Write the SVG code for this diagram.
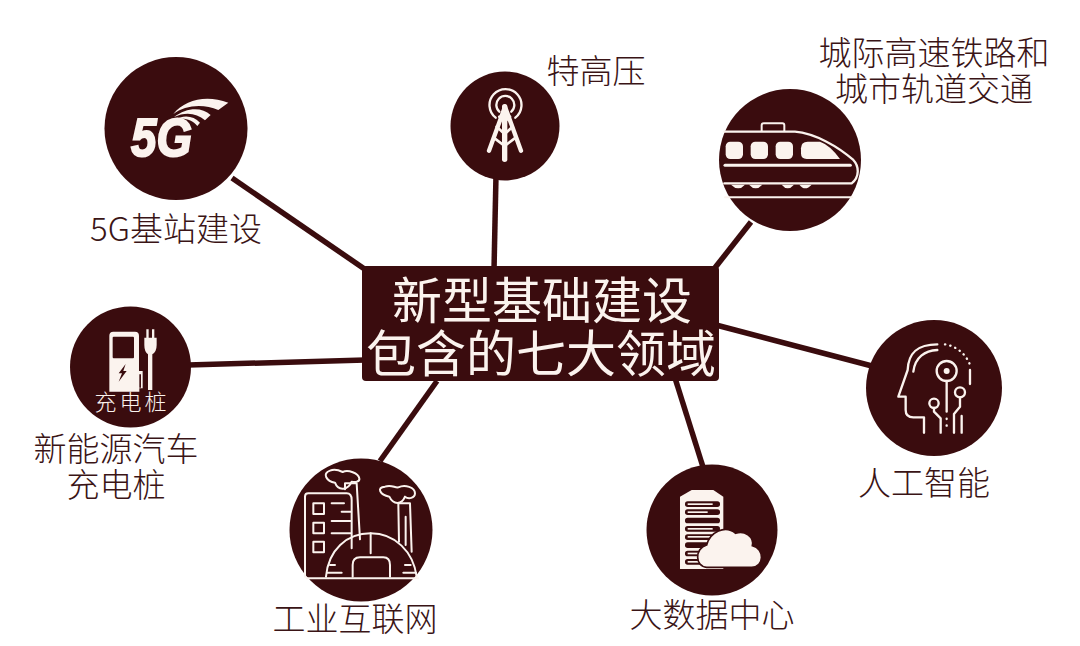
<svg xmlns="http://www.w3.org/2000/svg" width="1080" height="646" viewBox="0 0 1080 646">
<style>
.bg{fill:#3a0c0e}
.lbl{font-family:"Noto Sans CJK SC","Noto Sans",sans-serif;font-weight:300;font-size:33px;fill:#3a1416;text-anchor:middle}
.ttl{font-family:"Noto Sans CJK SC","Noto Sans",sans-serif;font-weight:400;font-size:50px;fill:#fbf3ee;text-anchor:middle}
.w{fill:#fbf3ee}
.s{fill:none;stroke:#fbf3ee;stroke-linecap:round;stroke-linejoin:round}
.d{fill:#3a0c0e}
.con line{stroke:#3a0c0e;stroke-width:5.5}
</style>
<rect width="1080" height="646" fill="#ffffff"/>
<g id="connectors" class="con">
<line x1="232" y1="178" x2="366" y2="270"/>
<line x1="496" y1="175" x2="494" y2="270"/>
<line x1="751" y1="222" x2="714" y2="269"/>
<line x1="716" y1="325" x2="872" y2="366"/>
<line x1="188" y1="365" x2="365" y2="360"/>
<line x1="380" y1="461" x2="437" y2="381"/>
<line x1="703" y1="467" x2="675" y2="378"/>
</g>
<g id="center">
<rect class="bg" x="362" y="266" width="357" height="115" rx="4"/>
<text class="ttl" x="542" y="319">新型基础建设</text>
<text class="ttl" x="541" y="372">包含的七大领域</text>
</g>
<g id="node-5g">
<circle class="bg" cx="176" cy="128.500" r="71.500"/>
<g transform="translate(90,40) scale(.3333)">
<path class="w" d="M250,222C285,178 350,163 415,188L385,210C340,190 285,195 250,222Z"/>
<path class="w" d="M252,231C290,202 335,200 362,225L345,241C320,218 285,215 252,231Z"/>
<path class="w" d="M252,240C280,224 310,226 330,248L322,258C305,238 280,232 252,240Z"/>
</g>
<text x="131" y="156" font-family="Liberation Sans,sans-serif" font-weight="700" font-style="italic" font-size="54" fill="#fbf3ee" stroke="#fbf3ee" stroke-width="2" textLength="61" lengthAdjust="spacingAndGlyphs">5G</text>
<text class="lbl" x="176" y="241">5G基站建设</text>
</g>
<g id="node-uhv">
<circle class="bg" cx="505" cy="126" r="54.500"/>
<g transform="translate(440,60) scale(.3333)">
<path class="s" stroke-width="7" d="M167,173A48,48 0 1 1 226,173"/>
<path class="s" stroke-width="7" d="M178,155A27,27 0 1 1 214,155"/>
<path class="s" stroke-width="13" d="M195,140L147,272M195,140L243,272"/>
<path class="s" stroke-width="16" d="M194,140V298"/>
<path class="s" stroke-width="8" d="M170,200L194,222L218,200M160,232L194,258L228,232M178,170L194,185L210,170"/>
</g>
<text class="lbl" x="596" y="83">特高压</text>
</g>
<g id="node-rail">
<circle class="bg" cx="790" cy="160" r="71"/>
<g transform="translate(705,80) scale(.3333)">
<path class="s" stroke-width="6" d="M170,153V136Q170,130 176,130H232Q238,130 238,136V153"/>
<path class="s" stroke-width="7" d="M58,155H270C330,160 400,200 445,240C462,258 465,290 440,310H58"/>
<rect class="w" x="62" y="185" width="52" height="52" rx="14"/>
<rect class="w" x="137" y="185" width="52" height="52" rx="14"/>
<rect class="w" x="212" y="185" width="52" height="52" rx="14"/>
<path class="w" d="M288,205Q288,185 308,185H345Q375,195 405,237H305Q288,237 288,220Z"/>
<path class="s" stroke-width="9" d="M60,256H436"/>
<path class="w" d="M78,314H120Q100,336 78,314ZM132,314H172Q152,336 132,314ZM230,314H267Q248,336 230,314ZM283,314H320Q300,336 283,314Z"/>
<path class="s" stroke-width="6" d="M60,352H442"/>
</g>
<text class="lbl" x="934" y="65">城际高速铁路和</text>
<text class="lbl" x="934" y="101">城市轨道交通</text>
</g>
<g id="node-ai">
<circle class="bg" cx="934" cy="388" r="68"/>
<g transform="translate(860,310) scale(.3333)">
<path class="s" stroke-width="7" d="M232,103C170,103 145,130 143,180L115,260H137V300Q137,322 160,322H192V368"/>
<path class="s" stroke-width="7" d="M160,185C165,142 195,122 232,120"/>
<path class="s" stroke-width="7" stroke-dasharray="1 15" d="M255,103C290,108 320,135 330,165"/>
<path class="s" stroke-width="7" d="M330,180V222"/>
<circle class="s" stroke-width="7" cx="260" cy="183" r="30"/>
<circle class="w" cx="260" cy="183" r="9"/>
<path class="s" stroke-width="7" d="M260,213V305"/>
<path class="s" stroke-width="7" stroke-dasharray="1 19" d="M260,326V366"/>
<circle class="s" stroke-width="7" cx="300" cy="247" r="15"/>
<path class="s" stroke-width="7" d="M300,262V290L282,312V368M305,318V368"/>
<circle class="s" stroke-width="7" cx="222" cy="280" r="14"/>
<path class="s" stroke-width="7" d="M222,294V305L242,325V368"/>
</g>
<text class="lbl" x="924" y="495">人工智能</text>
</g>
<g id="node-charger">
<circle class="bg" cx="130.500" cy="367" r="60.500"/>
<g transform="translate(60,295) scale(.3333)">
<path class="w" d="M160,110H225Q237,110 237,122V228H248V280H238V290H148V122Q148,110 160,110Z"/>
<rect class="d" x="158" y="125" width="64" height="65" rx="3"/>
<path class="d" d="M238,238H243V278H238Z"/>
<path class="d" d="M197,207L176,235H186L176,260L200,228H190Z"/>
<path class="w" d="M259,103H266V128H276V103H283V128H290V150Q290,170 277,178V285H264V178Q253,170 253,150V128H259Z"/>
</g>
<text x="132" y="410" font-family="Noto Sans CJK SC,sans-serif" font-weight="300" font-size="22" fill="#fbf3ee" text-anchor="middle" letter-spacing="3">充电桩</text>
<text class="lbl" x="116" y="461">新能源汽车</text>
<text class="lbl" x="116" y="497">充电桩</text>
</g>
<g id="node-industry">
<circle class="bg" cx="361" cy="530" r="71.500"/>
<g transform="translate(280,450) scale(.3333)">
<g class="s" stroke-width="6">
<path d="M75,380V140Q75,130 85,130H200Q215,130 215,150V295"/>
<rect x="100" y="160" width="32" height="32"/>
<rect x="100" y="218" width="32" height="32"/>
<rect x="100" y="275" width="32" height="32"/>
<path d="M155,160H192M185,185H212M155,213H212M155,250H212"/>
<path d="M195,118V100H230L240,268"/>
<path d="M165,98C140,95 125,70 150,62C165,55 180,62 188,66C205,58 235,70 238,85C240,95 225,98 215,95C205,120 175,125 165,98Z"/>
<path d="M357,275L355,160H390L395,305M377,200V285"/>
<path d="M328,140C300,135 288,112 315,110C335,102 345,115 355,112C375,102 405,112 405,130C405,145 385,148 375,140C365,165 340,165 328,140Z"/>
<path d="M138,380C145,300 200,250 272,250C345,250 400,305 410,380"/>
<path d="M272,250V310M80,385H415"/>
<path d="M218,380V345Q218,322 240,322H310Q330,322 330,345V380"/>
<path d="M142,368H185M370,368H408M150,345H165M375,345H392"/>
</g>
</g>
<text class="lbl" x="355" y="631">工业互联网</text>
</g>
<g id="node-data">
<circle class="bg" cx="712" cy="530" r="65.500"/>
<g transform="translate(635,455) scale(.3333)">
<path class="w" d="M135,125L170,105H235L265,125V342H135Z"/>
<g class="d">
<rect x="150" y="139" width="105" height="17" rx="8"/>
<rect x="150" y="163" width="105" height="17" rx="8"/>
<rect x="150" y="188" width="105" height="17" rx="8"/>
<rect x="150" y="213" width="105" height="17" rx="8"/>
<rect x="150" y="238" width="105" height="17" rx="8"/>
<rect x="150" y="262" width="105" height="17" rx="8"/>
<rect x="150" y="287" width="105" height="17" rx="8"/>
<rect x="150" y="312" width="105" height="17" rx="8"/>
</g>
<g class="w">
<rect x="158" y="145" width="75" height="5"/>
<rect x="158" y="169" width="60" height="5"/>
<rect x="158" y="219" width="75" height="5"/>
<rect x="158" y="243" width="75" height="5"/>
<rect x="158" y="293" width="75" height="5"/>
<rect x="158" y="318" width="75" height="5"/>
</g>
<path class="w" stroke="#3a0c0e" stroke-width="5" d="M215,337C180,335 178,280 215,270C225,232 270,208 302,235C328,225 358,245 352,272C390,280 388,337 350,337Z"/>
</g>
<text class="lbl" x="712" y="627">大数据中心</text>
</g>
</svg>
